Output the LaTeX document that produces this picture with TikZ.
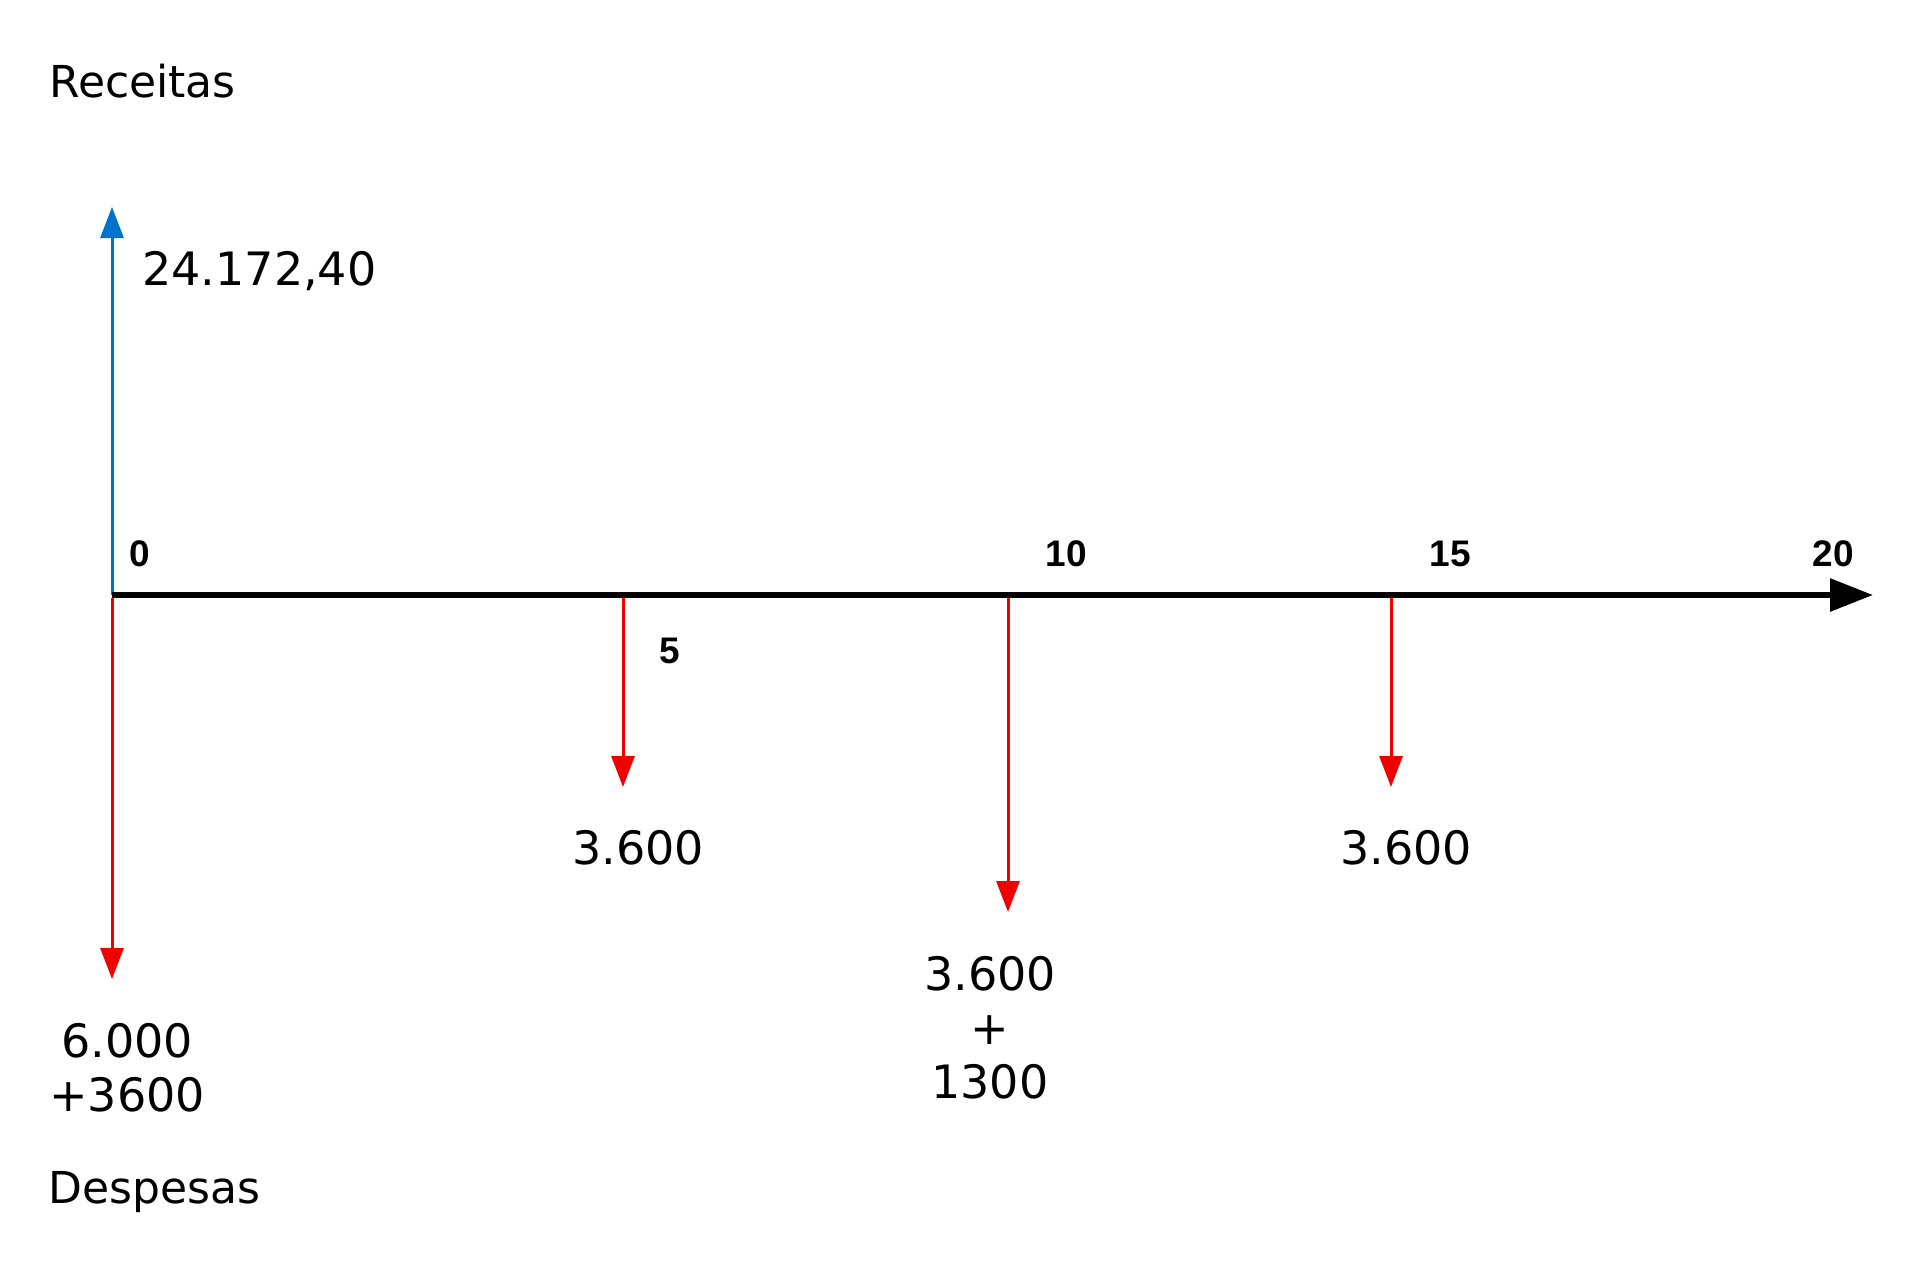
\documentclass[tikz,border=0pt]{standalone}
\usepackage{fontspec}
\setmainfont{DejaVu Sans}
\newfontfamily\tickfamily{Liberation Sans}
\usetikzlibrary{arrows.meta}
\definecolor{flowblue}{RGB}{0,114,206}
\definecolor{flowred}{RGB}{240,0,0}
\tikzset{
  lbl/.style={inner sep=0pt, anchor=base west, font=\fontsize{22}{27}\selectfont},
  nlbl/.style={inner sep=0pt, anchor=base west, font=\fontsize{23}{27}\selectfont},
  clbl/.style={inner sep=0pt, anchor=base, font=\fontsize{23}{27}\selectfont},
  tick/.style={inner sep=0pt, anchor=base, font=\tickfamily\bfseries\fontsize{18.5}{20}\selectfont},
  axisline/.style={line width=3pt, -{Triangle[length=21.5pt,width=16pt]}},
  inflow/.style={draw=flowblue, line width=1.5pt, -{Triangle[length=15.5pt,width=11.5pt]}, color=flowblue},
  outflow/.style={draw=flowred, line width=1.5pt, -{Triangle[length=15.5pt,width=11.5pt]}, color=flowred}
}
\begin{document}
\begin{tikzpicture}[x=0.5pt,y=-0.5pt]
\useasboundingbox (0,0) rectangle (1920,1281);
% axis points
\coordinate (o) at (112,595);
\coordinate (e) at (1873,595);
\coordinate (t5) at (623,595);
\coordinate (t10) at (1008,595);
\coordinate (t15) at (1391,595);
\coordinate (in0) at (112,207);
\coordinate (out0) at (112,979);
\coordinate (out5) at (623,787);
\coordinate (out10) at (1008,912);
\coordinate (out15) at (1391,787);
% flows
\draw[inflow] (o) -- (in0);
\draw[outflow] ([yshift=-1.5pt]o) -- (out0);
\draw[outflow] (t5) -- (out5);
\draw[outflow] (t10) -- (out10);
\draw[outflow] (t15) -- (out15);
% axis
\draw[axisline] (o) -- (e);
% tick labels
\node[tick] (k0) at (140,566) {0};
\node[tick] (k5) at (670,663) {5};
\node[tick] (k10) at (1066,566) {10};
\node[tick] (k15) at (1450,566) {15};
\node[tick] (k20) at (1833,566) {20};
% texts
\node[lbl] (rec) at (49,97) {Receitas};
\node[lbl] (desp) at (48,1203) {Despesas};
\node[nlbl] (v0) at (142,285) {24.172,40};
\node[clbl] (a1) at (127,1057) {6.000};
\node[clbl] (a2) at (127,1111) {+3600};
\node[clbl] (b1) at (638,864) {3.600};
\node[clbl] (c1) at (990,990) {3.600};
\node[clbl] (c2) at (990,1044) {+};
\node[clbl] (c3) at (990,1098) {1300};
\node[clbl] (d1) at (1406,864) {3.600};
\end{tikzpicture}
\end{document}
